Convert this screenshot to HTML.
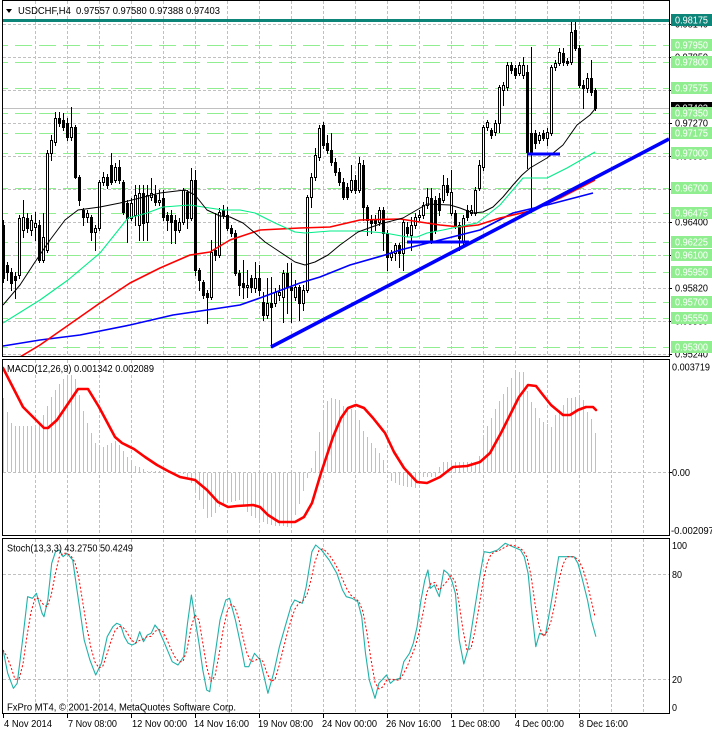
<!DOCTYPE html>
<html><head><meta charset="utf-8"><title>USDCHF H4</title>
<style>
html,body{margin:0;padding:0;background:#fff;overflow:hidden;}
svg{display:block;}
text{font-family:"Liberation Sans",Arial,sans-serif;font-size:10px;fill:#000;}
</style></head><body>
<svg id="s" xmlns="http://www.w3.org/2000/svg" width="712" height="732" viewBox="0 0 712 732">
<defs>
<clipPath id="cm"><rect x="3" y="1" width="666" height="355"/></clipPath>
<clipPath id="cd"><rect x="3" y="360" width="666" height="175"/></clipPath>
<clipPath id="cs"><rect x="3" y="539" width="666" height="174"/></clipPath>
</defs>
<rect width="712" height="732" fill="#fff"/>
<g id="grid" stroke="#c0c0c0" stroke-dasharray="3,2" shape-rendering="crispEdges"></g>
<g id="levels" clip-path="url(#cm)" stroke="#90ee90" stroke-dasharray="17,7" shape-rendering="crispEdges"></g>
<line x1="3" y1="108.5" x2="669" y2="108.5" stroke="#c0c0c0" shape-rendering="crispEdges"/>
<g id="candles" shape-rendering="crispEdges"></g>
<rect x="531" y="47" width="1" height="166" fill="#000"/>
<g clip-path="url(#cm)" fill="none" stroke-linejoin="round">
<polyline stroke="#0000ff" stroke-width="1.6" points="3,346 40,340 80,335 130,325 173,315 207,310 240,305 260,298 300,283 320,277 350,265 385,255 400,250 440,240 480,230 513,213 547,205 593,193"/>
<polyline stroke="#ff0000" stroke-width="1.6" points="20,357 40,345 60,331 80,317 100,303 130,283 160,268 190,255 210,252 230,240 260,230 300,228 330,227 360,220 400,219 420,222 440,225 460,227 478,225 500,218 530,211 560,198 595,180"/>
<polyline stroke="#00ee88" stroke-width="1.1" points="3,323 40,300 68,280 100,253 128,218 140,215 147,213 163,207 190,205 203,207 223,210 240,210 255,213 275,223 295,232 305,233 330,231 360,231 385,233 407,237 417,237 427,233 443,230 457,227 477,223 490,213 500,205 523,178 547,178 567,168 595,152"/>
<polyline stroke="#000" stroke-width="1" points="3,305 20,285 35,262 50,240 65,220 78,210 100,207 120,203 140,198 160,193 185,190 195,195 207,210 220,216 230,217 243,223 255,233 265,242 280,252 295,262 305,265 315,262 328,255 340,245 358,232 380,224 403,218 427,204 450,205 460,208 473,213 483,212 493,207 503,197 513,185 522,175 530,168 547,158 563,145 577,125 590,115 595,109"/>
<line x1="271" y1="347" x2="669" y2="139" stroke="#0000ff" stroke-width="3.6"/>
<rect x="407" y="240.5" width="62" height="3" fill="#0000ff" stroke="none"/>
<rect x="527" y="152.5" width="33" height="3" fill="#0000ff" stroke="none"/>
</g>
<rect x="3" y="19" width="666" height="3" fill="#0e8579"/>

<!-- MACD -->
<g id="hist" fill="#c0c0c0" clip-path="url(#cd)" shape-rendering="crispEdges"></g>
<g clip-path="url(#cd)"><polyline fill="none" stroke="#ff0000" stroke-width="2.6" stroke-linejoin="round" stroke-linecap="round" points="3,368 23,407 44,428 48,428 57,420 78,389 88,389 99,407 115,437 122,443 134,449 145,457 157,465 168,471 180,477 195,480 207,490 218,502 228,507 237,506 253,505 260,507 268,515 279,522 295,522 304,517 312,503 321,473 333,437 341,418 348,408 356,405 364,408 373,418 385,433 394,452 404,468 417,482 427,483 440,477 453,467 467,466 480,462 490,453 501,433 511,413 519,397 528,385 536,386 543,395 551,405 563,415 570,415 578,410 586,407 593,407 596,410"/></g>

<!-- Stoch -->
<g id="stm" clip-path="url(#cs)"></g>
<g id="sig" clip-path="url(#cs)"></g>

<!-- frames -->
<g fill="none" stroke="#000" shape-rendering="crispEdges">
<rect x="2.5" y="0.5" width="667" height="356"/>
<rect x="2.5" y="359.5" width="667" height="176"/>
<rect x="2.5" y="538.5" width="667" height="175"/>
</g>
<g id="ticks" stroke="#000" shape-rendering="crispEdges"></g>

<!-- header -->
<polygon points="6,9 12,9 9,13" fill="#000"/>
<text x="18" y="14" textLength="202" lengthAdjust="spacingAndGlyphs">USDCHF,H4&#160; 0.97557 0.97580 0.97388 0.97403</text>
<text x="7" y="372" textLength="147" lengthAdjust="spacingAndGlyphs">MACD(12,26,9) 0.001342 0.002089</text>
<text x="7" y="551.5" textLength="126" lengthAdjust="spacingAndGlyphs">Stoch(13,3,3) 43.2750 50.4249</text>
<text x="7" y="710.5" textLength="229" lengthAdjust="spacingAndGlyphs">FxPro MT4, © 2001-2014, MetaQuotes Software Corp.</text>

<!-- price axis tick labels -->
<g>
<text x="675" y="27.5" textLength="33" lengthAdjust="spacingAndGlyphs">0.98140</text>
<text x="675" y="60.5" textLength="33" lengthAdjust="spacingAndGlyphs">0.97850</text>
<text x="675" y="93.5" textLength="33" lengthAdjust="spacingAndGlyphs">0.97560</text>
<text x="675" y="126.5" textLength="33" lengthAdjust="spacingAndGlyphs">0.97270</text>
<text x="675" y="159.5" textLength="33" lengthAdjust="spacingAndGlyphs">0.96980</text>
<text x="675" y="192.5" textLength="33" lengthAdjust="spacingAndGlyphs">0.96690</text>
<text x="675" y="225.5" textLength="33" lengthAdjust="spacingAndGlyphs">0.96400</text>
<text x="675" y="258.5" textLength="33" lengthAdjust="spacingAndGlyphs">0.96110</text>
<text x="675" y="291.5" textLength="33" lengthAdjust="spacingAndGlyphs">0.95820</text>
<text x="675" y="324.5" textLength="33" lengthAdjust="spacingAndGlyphs">0.95530</text>
<text x="675" y="357.5" textLength="33" lengthAdjust="spacingAndGlyphs">0.95240</text>
</g>
<!-- current price label -->
<rect x="671" y="102" width="41" height="12" fill="#000"/>
<text x="675" y="111.5" textLength="33" lengthAdjust="spacingAndGlyphs" style="fill:#fff">0.97403</text>
<!-- level labels -->
<g id="lbl"></g>
<rect x="671" y="14" width="41" height="12" fill="#0e8579"/>
<text x="675" y="23.5" textLength="33" lengthAdjust="spacingAndGlyphs" style="fill:#fff">0.98175</text>
<g id="lbltxt" style="fill:#fff">
<text x="675" y="48.5" textLength="33" lengthAdjust="spacingAndGlyphs" style="fill:#fff">0.97950</text>
<text x="675" y="65.5" textLength="33" lengthAdjust="spacingAndGlyphs" style="fill:#fff">0.97800</text>
<text x="675" y="91.5" textLength="33" lengthAdjust="spacingAndGlyphs" style="fill:#fff">0.97575</text>
<text x="675" y="116.5" textLength="33" lengthAdjust="spacingAndGlyphs" style="fill:#fff">0.97350</text>
<text x="675" y="136.5" textLength="33" lengthAdjust="spacingAndGlyphs" style="fill:#fff">0.97175</text>
<text x="675" y="156.5" textLength="33" lengthAdjust="spacingAndGlyphs" style="fill:#fff">0.97000</text>
<text x="675" y="191.5" textLength="33" lengthAdjust="spacingAndGlyphs" style="fill:#fff">0.96700</text>
<text x="675" y="216.5" textLength="33" lengthAdjust="spacingAndGlyphs" style="fill:#fff">0.96475</text>
<text x="675" y="245.5" textLength="33" lengthAdjust="spacingAndGlyphs" style="fill:#fff">0.96225</text>
<text x="675" y="258.5" textLength="33" lengthAdjust="spacingAndGlyphs" style="fill:#fff">0.96100</text>
<text x="675" y="275.5" textLength="33" lengthAdjust="spacingAndGlyphs" style="fill:#fff">0.95950</text>
<text x="675" y="305.5" textLength="33" lengthAdjust="spacingAndGlyphs" style="fill:#fff">0.95700</text>
<text x="675" y="321.5" textLength="33" lengthAdjust="spacingAndGlyphs" style="fill:#fff">0.95550</text>
<text x="675" y="350.5" textLength="33" lengthAdjust="spacingAndGlyphs" style="fill:#fff">0.95300</text>
</g>

<!-- MACD axis -->
<text x="672" y="370.5" textLength="38" lengthAdjust="spacingAndGlyphs">0.003719</text>
<text x="672" y="476" textLength="18" lengthAdjust="spacingAndGlyphs">0.00</text>
<text x="671" y="534" textLength="43" lengthAdjust="spacingAndGlyphs">-0.002097</text>
<!-- Stoch axis -->
<text x="672" y="549" textLength="15" lengthAdjust="spacingAndGlyphs">100</text>
<text x="672" y="578" textLength="10" lengthAdjust="spacingAndGlyphs">80</text>
<text x="672" y="683" textLength="10" lengthAdjust="spacingAndGlyphs">20</text>
<text x="672" y="711" textLength="5" lengthAdjust="spacingAndGlyphs">0</text>

<!-- time axis -->
<text x="4" y="727" textLength="48" lengthAdjust="spacingAndGlyphs">4 Nov 2014</text>
<text x="68" y="727" textLength="49" lengthAdjust="spacingAndGlyphs">7 Nov 08:00</text>
<text x="132" y="727" textLength="55" lengthAdjust="spacingAndGlyphs">12 Nov 00:00</text>
<text x="194" y="727" textLength="55" lengthAdjust="spacingAndGlyphs">14 Nov 16:00</text>
<text x="258" y="727" textLength="55" lengthAdjust="spacingAndGlyphs">19 Nov 08:00</text>
<text x="322" y="727" textLength="55" lengthAdjust="spacingAndGlyphs">24 Nov 00:00</text>
<text x="386" y="727" textLength="55" lengthAdjust="spacingAndGlyphs">26 Nov 16:00</text>
<text x="451" y="727" textLength="49" lengthAdjust="spacingAndGlyphs">1 Dec 08:00</text>
<text x="515" y="727" textLength="49" lengthAdjust="spacingAndGlyphs">4 Dec 00:00</text>
<text x="579" y="727" textLength="49" lengthAdjust="spacingAndGlyphs">8 Dec 16:00</text>
</svg>
<script>
(function(){
var S=document.getElementById('s'),NS='http://www.w3.org/2000/svg';
function E(t,a,p){var e=document.createElementNS(NS,t);for(var k in a)e.setAttribute(k,a[k]);(p||S).appendChild(e);return e;}
function interp(P,x){if(x<=P[0][0])return P[0][1];for(var j=1;j<P.length;j++){if(x<=P[j][0]){var a=P[j-1],b=P[j];return a[1]+(b[1]-a[1])*(x-a[0])/(b[0]-a[0]);}}return P[P.length-1][1];}
// grid
var g=document.getElementById('grid');
[[1,356],[360,535],[539,713]].forEach(function(r){for(var k=1;k<=20;k++){var x=3+32*k+0.5;E('line',{x1:x,x2:x,y1:r[0],y2:r[1]},g);}});
[24,57,90,123,156,189,222,255,288,321,354,472,574,679].forEach(function(y){E('line',{x1:3,x2:669,y1:y+0.5,y2:y+0.5},g);});
// levels
var lv=document.getElementById('levels');
var LV=[45,62,88,113,133,153,188,213,242,255,272,302,318,347];
LV.forEach(function(y){E('line',{x1:-9,x2:669,y1:y+0.5,y2:y+0.5},lv);});
// level label boxes
var lb=document.getElementById('lbl');
LV.forEach(function(y){E('rect',{x:671,y:y-6,width:41,height:12,fill:'#90ee90'},lb);});
// ticks
var tk=document.getElementById('ticks');
[24,57,90,123,156,189,222,255,288,321,354].forEach(function(y){E('line',{x1:669,x2:672,y1:y+0.5,y2:y+0.5},tk);});
[472].forEach(function(y){E('line',{x1:669,x2:672,y1:y+0.5,y2:y+0.5},tk);});
[3,67,131,195,259,323,387,451,515,579].forEach(function(x){E('line',{x1:x+0.5,x2:x+0.5,y1:714,y2:718},tk);});
// candles [open,close,high,low] in pixel y
var C=[[225,278,220,282],[265,272,262,280],[272,283,268,290],[276,280,272,298],[275,218,215,278],[230,217,200,237],[218,228,213,232],[230,220,215,235],[227,223,212,240],[225,260,220,262],
[260,237,213,262],[250,153,150,252],[153,140,135,160],[142,118,112,145],[118,123,112,126],[120,127,113,130],[123,137,118,140],[137,127,107,140],[127,177,125,178],[177,200,175,205],
[210,217,208,225],[217,213,210,222],[217,232,215,240],[232,228,225,250],[228,182,180,230],[182,177,172,185],[177,185,174,188],[165,182,153,184],[180,167,163,182],[167,180,160,183],
[182,212,180,214],[203,218,200,242],[218,203,198,220],[215,195,185,225],[225,193,185,240],[193,223,185,240],[222,195,185,240],[197,193,178,200],[195,202,185,205],[202,200,190,205],
[198,217,190,220],[215,220,212,230],[215,222,210,243],[220,230,215,243],[230,222,218,232],[222,190,188,224],[192,218,190,228],[218,180,168,220],[180,270,170,275],[270,280,268,290],
[282,295,280,298],[293,297,290,323],[297,252,240,299],[250,255,213,260],[255,212,208,257],[210,215,205,218],[215,228,207,230],[228,233,225,236],[233,273,230,275],[273,285,270,295],
[283,287,260,298],[287,285,270,297],[278,287,275,292],[288,278,262,292],[278,290,265,295],[302,315,292,320],[315,303,278,318],[303,307,277,347],[303,292,288,306],[295,292,285,300],
[297,273,270,322],[273,287,263,313],[287,290,263,322],[297,287,280,300],[287,303,285,320],[303,290,285,310],[290,197,195,292],[197,177,173,207],[177,155,148,180],[157,128,125,160],
[125,145,122,148],[143,150,135,153],[150,162,133,165],[162,172,158,175],[172,182,168,185],[182,197,178,199],[187,197,183,199],[190,180,165,192],[180,190,175,193],[190,163,157,192],
[165,207,160,220],[207,220,205,235],[220,223,215,233],[220,223,215,230],[222,210,207,225],[210,233,207,250],[233,257,230,270],[257,253,250,260],[253,245,243,260],[245,253,243,267],
[253,222,220,270],[227,233,222,236],[235,225,217,250],[225,217,213,228],[217,215,210,220],[215,205,202,218],[205,197,188,208],[198,240,188,243],[200,230,196,233],[198,210,193,215],
[200,185,175,202],[185,192,178,195],[213,192,170,215],[213,225,210,228],[225,238,222,250],[242,218,215,247],[210,217,205,220],[213,210,205,215],[213,190,187,215],[188,165,160,190],
[167,127,125,170],[127,122,120,130],[130,135,128,138],[132,123,120,135],[123,87,85,132],[90,85,82,105],[87,65,62,90],[65,70,62,73],[68,75,65,78],[73,65,62,75],
[75,65,57,78],[72,152,65,168],[152,133,130,155],[133,143,130,148],[140,135,132,143],[133,138,130,140],[138,132,128,145],[133,67,65,135],[67,63,60,70],[63,52,48,65],
[53,62,48,65],[61,63,58,65],[62,32,22,64],[30,48,22,50],[48,85,45,87],[85,88,80,108],[88,78,73,92],[78,92,60,95],[90,108,88,110]];
var cg=document.getElementById('candles');
C.forEach(function(d,i){var cx=3+4*i,o=d[0],c=d[1],h=d[2],l=d[3],t=Math.min(o,c),b=Math.max(o,c);
E('rect',{x:cx,y:h,width:1,height:l-h+1,fill:'#000'},cg);
E('rect',{x:cx-1,y:t,width:3,height:b-t+1,fill:'#000'},cg);
if(c<o&&b-t>1)E('rect',{x:cx,y:t+1,width:1,height:b-t-1,fill:'#fff'},cg);});
// MACD histogram
var H=[[3,398],[7,412],[11,423],[15,426],[38,426],[44,413],[52,395],[60,382],[68,374],[72,375],[76,380],[80,400],[84,415],[88,425],[96,445],[104,447],[116,440],[124,452],[132,465],[140,467],[148,471],[176,472],[186,475],[195,490],[199,500],[207,518],[212,517],[220,505],[240,500],[249,515],[268,525],[291,527],[295,515],[302,495],[306,480],[312,465],[320,427],[325,403],[329,398],[339,400],[344,407],[356,410],[362,430],[371,443],[379,453],[383,460],[387,472],[390,480],[400,486],[417,488],[422,477],[437,477],[440,462],[478,462],[482,437],[490,420],[498,403],[505,390],[509,383],[513,373],[524,372],[528,397],[536,410],[540,420],[551,427],[555,415],[563,405],[566,398],[582,397],[586,410],[593,423],[597,443]];
var hg=document.getElementById('hist');
for(var i=0;i<149;i++){var x=3+4*i,y=Math.round(interp(H,x));
if(y<472)E('rect',{x:x,y:y,width:1,height:472-y},hg);else if(y>473)E('rect',{x:x,y:473,width:1,height:y-473},hg);}
// Stoch
var M=[[3.1,650],[7.7,673.3],[13.4,688.3],[17.2,683.3],[23,636.7],[27.6,596.7],[32.5,598.3],[36.4,593.3],[42.1,613.3],[44,616.7],[47.8,600],[51.7,563.3],[55.5,551.7],[59.3,550],[63.1,556.7],[67,553.3],[72.7,560],[76.5,586.7],[80.4,613.3],[84.2,640],[89.9,660],[95.7,675],[101.4,663.3],[107.2,636.7],[112.9,626.7],[116.7,623.3],[120.6,625],[124.4,636.7],[128.2,643.3],[132,645],[135.9,643.3],[139.7,631.7],[143.5,641.7],[147.3,635],[151.2,633.3],[155,625],[158.8,630],[164.6,643.3],[172.2,661.7],[178,665],[183.7,656.7],[187.5,623.3],[191.4,595],[195.2,620],[199,643.3],[202.8,670],[206.7,690],[209.7,691.7],[214.3,660],[220,620],[225.8,600],[229.6,598.3],[235.4,620],[241.1,646.7],[244.9,666.7],[248.8,666.7],[254.5,653.3],[260.2,660],[264.1,676.7],[267.9,693.3],[273.6,673.3],[279.4,646.7],[285.1,626.7],[290.9,606.7],[294.7,600],[298.5,601.7],[302.3,603.3],[306.2,586.7],[311.9,551.7],[315.7,545],[321.5,550],[329.1,560],[336.8,573.3],[342.5,590],[346.3,596.7],[352.1,598.3],[357.8,601.7],[361.7,616.7],[365.5,653.3],[369.3,680],[375,698.3],[378.9,683.3],[386.5,675],[390.4,683.3],[394.2,680],[399.9,678.3],[403.8,661.7],[409.5,653.3],[413.3,643.3],[417.1,626.7],[421,600],[424.8,580],[427.9,570],[430.5,588.3],[434.4,585],[436.3,590],[439.3,596.7],[443.9,570],[447.8,573.3],[451.6,580],[455.4,593.3],[459.2,640],[463.8,664],[468.8,646.7],[474.5,610],[480.3,573.3],[484.1,551.7],[489.9,552.7],[497.5,550],[505.2,543.3],[512.8,546.7],[520.5,550],[524.3,556.7],[528.1,573.3],[532,613.3],[535.8,646.7],[539.6,633.3],[545.4,635],[551.1,603.3],[558.7,556.7],[566.4,556.7],[574,556.7],[577.9,563.3],[581.7,576.7],[587.5,600],[591.3,620],[595.9,636.7]];
E('polyline',{points:M.map(function(p){return p[0]+','+p[1];}).join(' '),fill:'none',stroke:'#20b2aa','stroke-width':1.1,'stroke-linejoin':'round'},document.getElementById('stm'));
var m=[];for(var i=0;i<149;i++)m.push(interp(M,3+4*i));
var pts=[];for(var i=0;i<149;i++){var a=m[Math.max(0,i-2)],b=m[Math.max(0,i-1)],c=m[i];pts.push((3+4*i)+','+((a+b+c)/3).toFixed(1));}
E('polyline',{points:pts.join(' '),fill:'none',stroke:'#ff0000','stroke-width':1,'stroke-dasharray':'2,2'},document.getElementById('sig'));
})();
</script>
</body></html>
